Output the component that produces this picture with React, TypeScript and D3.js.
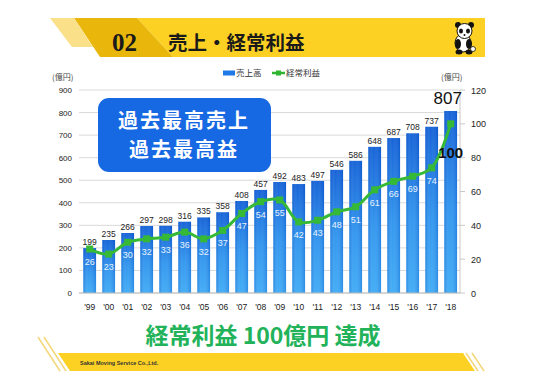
import React from "react";
import * as d3 from "d3";

const years = ["'99","'00","'01","'02","'03","'04","'05","'06","'07","'08","'09","'10","'11","'12","'13","'14","'15","'16","'17","'18"];
const sales = [199,235,266,297,298,316,335,358,408,457,492,483,497,546,586,648,687,708,737,807];
const profit = [26,23,30,32,33,36,32,37,47,54,55,42,43,48,51,61,66,69,74,100];
const leftTicks = [0,100,200,300,400,500,600,700,800,900];
const rightTicks = [0,20,40,60,80,100,120];

const W = 550, H = 389;
const JP = "'Noto Sans CJK JP', 'Noto Sans', sans-serif";

export default function App() {
  const x = d3.scaleBand<string>().domain(years).range([80.2, 460.2]).paddingInner(0.33).paddingOuter(0.165);
  const yL = d3.scaleLinear().domain([0, 900]).range([293, 90]);
  const yR = d3.scaleLinear().domain([0, 120]).range([293, 90]);
  const cx = (i: number) => (x(years[i]) as number) + x.bandwidth() / 2;
  const line = d3.line<number>().x((_, i) => cx(i)).y((d) => yR(d)).curve(d3.curveCatmullRom.alpha(0.5));
  const last = years.length - 1;

  return (
    <svg width={W} height={H} style={{ position: "absolute", left: 0, top: 0, background: "#fff" }}>
      <defs>
        <linearGradient id="barG" x1="0" y1="0" x2="0" y2="1">
          <stop offset="0%" stopColor="#0b5cd6" />
          <stop offset="55%" stopColor="#2a93ee" />
          <stop offset="100%" stopColor="#3aaaf6" />
        </linearGradient>
        <linearGradient id="barH" x1="0" y1="0" x2="1" y2="0">
          <stop offset="0%" stopColor="#0a4fc0" stopOpacity="0.35" />
          <stop offset="40%" stopColor="#ffffff" stopOpacity="0.05" />
          <stop offset="100%" stopColor="#0a4fc0" stopOpacity="0.3" />
        </linearGradient>
      </defs>

      {/* header */}
      <polygon points="137,18 485,18 485,57 173,57" fill="#fdd123" />
      <polygon points="74,18 137,18 173,57 100,57" fill="#e9b70c" />
      <polygon points="50,18 74,18 93,47 72,47" fill="#fbe08a" />
      <text x={112} y={51} fontFamily="'Liberation Serif', serif" fontSize={25} fontWeight="bold" fill="#1a1a1a">02</text>
      <text x={168} y={50} fontFamily={JP} fontSize={19.5} fontWeight="bold" fill="#1a1a1a">売上・経常利益</text>

      {/* panda */}
      <g>
        <ellipse cx={463} cy={43} rx={8} ry={9} fill="#fff" stroke="#111" strokeWidth={1} />
        <circle cx={458} cy={25} r={3} fill="#111" />
        <circle cx={471} cy={25} r={3} fill="#111" />
        <circle cx={464.5} cy={31} r={7.5} fill="#fff" stroke="#111" strokeWidth={1} />
        <ellipse cx={461} cy={31} rx={2} ry={2.6} fill="#111" />
        <ellipse cx={468} cy={31} rx={2} ry={2.6} fill="#111" />
        <circle cx={464.5} cy={35} r={1} fill="#111" />
        <ellipse cx={458} cy={44} rx={3} ry={5} fill="#111" />
        <ellipse cx={469} cy={44} rx={3} ry={5} fill="#111" />
        <ellipse cx={459} cy={52} rx={3.5} ry={2.5} fill="#111" />
        <ellipse cx={469} cy={52} rx={3.5} ry={2.5} fill="#111" />
        <circle cx={473} cy={49} r={2.5} fill="#fff" stroke="#111" strokeWidth={0.8} />
      </g>

      {/* legend */}
      <rect x={223} y={70.5} width={12} height={5} fill="#1f7ae8" />
      <text x={236} y={76} fontFamily={JP} fontSize={8.5} fill="#333">売上高</text>
      <line x1={272} y1={73} x2={285} y2={73} stroke="#2fb52f" strokeWidth={2.5} />
      <rect x={276} y={70.5} width={5} height={5} fill="#2fb52f" />
      <text x={286} y={76} fontFamily={JP} fontSize={8.5} fill="#333">経常利益</text>

      <text x={52} y={80} fontFamily={JP} fontSize={8} fill="#444">(億円)</text>
      <text x={441} y={80} fontFamily={JP} fontSize={8} fill="#444">(億円)</text>

      {/* gridlines */}
      {leftTicks.map((t) => (
        <line key={t} x1={79} x2={460} y1={yL(t)} y2={yL(t)} stroke="#d9d9d9" strokeWidth={1} />
      ))}
      {leftTicks.map((t) => (
        <text key={"l" + t} x={72} y={yL(t) + 3} textAnchor="end" fontFamily="'Liberation Sans', Arial, sans-serif" fontSize={8} fill="#222">{t}</text>
      ))}
      <line x1={460} x2={460} y1={90} y2={293} stroke="#c8c8c8" />
      {rightTicks.map((t) => (
        <g key={"r" + t}>
          <line x1={460} x2={465} y1={yR(t)} y2={yR(t)} stroke="#c8c8c8" />
          <text x={471} y={yR(t) + 3.5} fontFamily="'Liberation Sans', Arial, sans-serif" fontSize={9} fill="#222">{t}</text>
        </g>
      ))}

      {/* bars */}
      {sales.map((v, i) => (
        <g key={"b" + i}>
          <rect x={x(years[i])} y={yL(v)} width={x.bandwidth()} height={293 - yL(v)} fill="url(#barG)" />
          <rect x={x(years[i])} y={yL(v)} width={x.bandwidth()} height={293 - yL(v)} fill="url(#barH)" />
        </g>
      ))}
      <line x1={79} x2={460} y1={293} y2={293} stroke="#bdbdbd" />

      {/* sales labels */}
      {sales.map((v, i) =>
        i === last ? (
          <text key={"s" + i} x={cx(i) - 3} y={yL(v) - 7} textAnchor="middle" fontFamily="'Liberation Sans', Arial, sans-serif" fontSize={17} fill="#111">{v}</text>
        ) : (
          <text key={"s" + i} x={cx(i)} y={yL(v) - 3} textAnchor="middle" fontFamily="'Liberation Sans', Arial, sans-serif" fontSize={8.5} fill="#222">{v}</text>
        )
      )}

      {/* line */}
      <path d={line(profit) || ""} fill="none" stroke="#36b936" strokeWidth={3} />
      {profit.map((v, i) => (
        <rect key={"m" + i} x={cx(i) - 3.5} y={yR(v) - 3.5} width={7} height={7} fill="#36b936" />
      ))}
      {profit.map((v, i) =>
        i === last ? (
          <text key={"p" + i} x={cx(i)} y={yR(v) + 34} textAnchor="middle" fontFamily="'Liberation Sans', Arial, sans-serif" fontSize={15} fontWeight="bold" fill="#111">{v}</text>
        ) : (
          <text key={"p" + i} x={cx(i)} y={yR(v) + 16} textAnchor="middle" fontFamily="'Liberation Sans', Arial, sans-serif" fontSize={9} fill="#e6f3ff">{v}</text>
        )
      )}

      {/* x labels */}
      {years.map((yv, i) => (
        <text key={"x" + i} x={cx(i)} y={310} textAnchor="middle" fontFamily="'Liberation Sans', Arial, sans-serif" fontSize={8.5} fill="#222">{yv}</text>
      ))}

      {/* callout */}
      <rect x={98} y={98} width={173} height={74} rx={11} fill="#1668e3" />
      <text x={184} y={128} textAnchor="middle" fontFamily={JP} fontSize={20} letterSpacing={2} fontWeight="bold" fill="#fff">過去最高売上</text>
      <text x={184} y={157} textAnchor="middle" fontFamily={JP} fontSize={20} letterSpacing={2} fontWeight="bold" fill="#fff">過去最高益</text>

      {/* bottom message */}
      <text x={263} y={344} textAnchor="middle" fontFamily={JP} fontSize={23} fontWeight="bold" fill="#22b35a">経常利益 100億円 達成</text>

      {/* footer */}
      <line x1={38} y1={337} x2={60} y2={371} stroke="#f3d77a" strokeWidth={1.5} />
      <line x1={44} y1={337} x2={66} y2={371} stroke="#f3d77a" strokeWidth={1.5} />
      <polygon points="58,353 463,353 475,371 70,371" fill="#fdd123" />
      <line x1={466} y1={353} x2={478} y2={371} stroke="#f3d77a" strokeWidth={1.5} />
      <line x1={472} y1={353} x2={484} y2={371} stroke="#f3d77a" strokeWidth={1.5} />
      <text x={80} y={365} fontFamily="'Liberation Sans', Arial, sans-serif" fontSize={5.5} fontWeight="bold" fill="#333">Sakai Moving Service Co.,Ltd.</text>
    </svg>
  );
}
